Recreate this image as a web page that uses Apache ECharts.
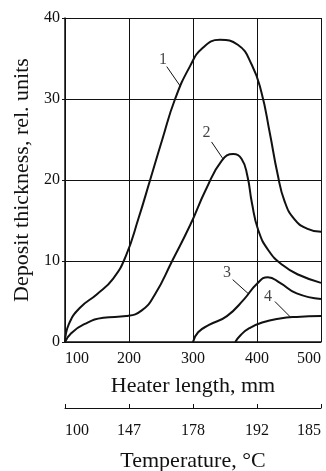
<!DOCTYPE html>
<html>
<head>
<meta charset="utf-8">
<script src="https://cdn.jsdelivr.net/npm/echarts@6/dist/echarts.min.js"></script>
<style>html,body{margin:0;padding:0;background:#fff}#c{width:326px;height:471px}</style>
</head>
<body>
<div id="c"></div>
<script>
// Heater length (mm) axis ticks and temperature labels
const lengthTicks = [100, 200, 300, 400, 500];
const temperatureLabels = ['100', '147', '178', '192', '185'];

// Curves: [heater length, deposit thickness]
const curve1 = [[100,0],[106,2.2],[123,4.2],[150,5.9],[175,7.8],[195,10.6],[215,15.3],[233,20],[252,25],[272,30],[295,34],[315,36.3],[342,37.3],[370,36.7],[392,34.2],[407,30.8],[420,25.8],[432,20.8],[443,17.4],[458,15.2],[478,14],[500,13.6]];
const curve2 = [[100,0],[110,1.1],[130,2.2],[160,3.0],[196,3.2],[220,3.9],[240,5.8],[268,10.1],[296,14.5],[320,18.8],[345,22.4],[363,23.2],[376,22.6],[385,20.5],[392,17.2],[402,13.8],[418,11.3],[440,9.5],[465,8.3],[500,7.3]];
const curve3 = [[300,0],[308,1.2],[325,2.1],[353,3.2],[380,5.3],[400,7.2],[417,8.0],[436,7.3],[462,6.0],[500,5.3]];
const curve4 = [[366,0],[375,0.9],[388,1.7],[408,2.4],[436,2.9],[462,3.1],[500,3.2]];

// Curve number labels and leader lines (data coordinates)
const curveNames = ['1', '2', '3', '4'];
const labelPos = [[253,34.8],[321,25.8],[353,8.5],[417,5.6]];
const leaderStart = [[259,34],[329,24.7],[362,7.7],[428,5.0]];
const leaderEnd = [[280,31.6],[347,22.6],[386,6.0],[452,3.1]];

const FONT = 'Liberation Serif';
const ink = '#111';

const curves = [curve1, curve2, curve3, curve4];
const series = curves.map((d, i) => ({
  type: 'line',
  data: d,
  smooth: 0.5,
  showSymbol: false,
  lineStyle: { color: ink, width: 2 },
  silent: true,
  z: 3
}));
series.push({
  type: 'scatter',
  data: labelPos.map((p, i) => ({ value: p, name: curveNames[i] })),
  symbolSize: 0,
  label: { show: true, position: 'inside', formatter: '{b}', color: ink, fontFamily: FONT, fontSize: 16 },
  silent: true
});
series.push({
  type: 'line',
  data: [],
  markLine: {
    silent: true,
    symbol: 'none',
    label: { show: false },
    lineStyle: { color: ink, width: 1, type: 'solid' },
    data: leaderStart.map((s, i) => [{ coord: s }, { coord: leaderEnd[i] }])
  }
});

const chart = echarts.init(document.getElementById('c'));
chart.setOption({
  animation: false,
  backgroundColor: '#fff',
  grid: { left: 65, right: 5, top: 18, bottom: 129, outerBoundsMode: 'none', containLabel: false },
  xAxis: [{
    type: 'value', min: 100, max: 500, interval: 100,
    name: 'Heater length, mm', nameLocation: 'middle', nameGap: 33,
    nameTextStyle: { fontFamily: FONT, fontSize: 22, color: ink },
    axisLine: { show: true, lineStyle: { color: ink, width: 1.5 } },
    axisTick: { show: false },
    axisLabel: { margin: 9, fontFamily: FONT, fontSize: 16, color: ink,
      alignMinLabel: 'left', alignMaxLabel: 'right',
      formatter: v => lengthTicks.includes(v) ? String(v) : '' },
    splitLine: { show: true, lineStyle: { color: ink, width: 1 } }
  }, {
    type: 'category', position: 'bottom', offset: 66, boundaryGap: false,
    data: temperatureLabels,
    name: 'Temperature, °C', nameLocation: 'middle', nameGap: 42,
    nameTextStyle: { fontFamily: FONT, fontSize: 22, color: ink },
    axisLine: { show: true, lineStyle: { color: ink, width: 1 } },
    axisTick: { show: true, inside: true, length: 4, lineStyle: { color: ink } },
    axisLabel: { margin: 15, fontFamily: FONT, fontSize: 16, color: ink,
      alignMinLabel: 'left', alignMaxLabel: 'right' },
    splitLine: { show: false }
  }],
  yAxis: {
    type: 'value', min: 0, max: 40, interval: 10,
    name: 'Deposit thickness, rel. units', nameLocation: 'middle', nameGap: 32,
    nameTextStyle: { fontFamily: FONT, fontSize: 22, color: ink },
    axisLine: { show: true, lineStyle: { color: ink, width: 1.5 } },
    axisTick: { show: true, length: 3, lineStyle: { color: ink } },
    axisLabel: { margin: 5, fontFamily: FONT, fontSize: 16, color: ink },
    splitLine: { show: true, lineStyle: { color: ink, width: 1 } }
  },
  series: series
});
</script>
</body>
</html>
